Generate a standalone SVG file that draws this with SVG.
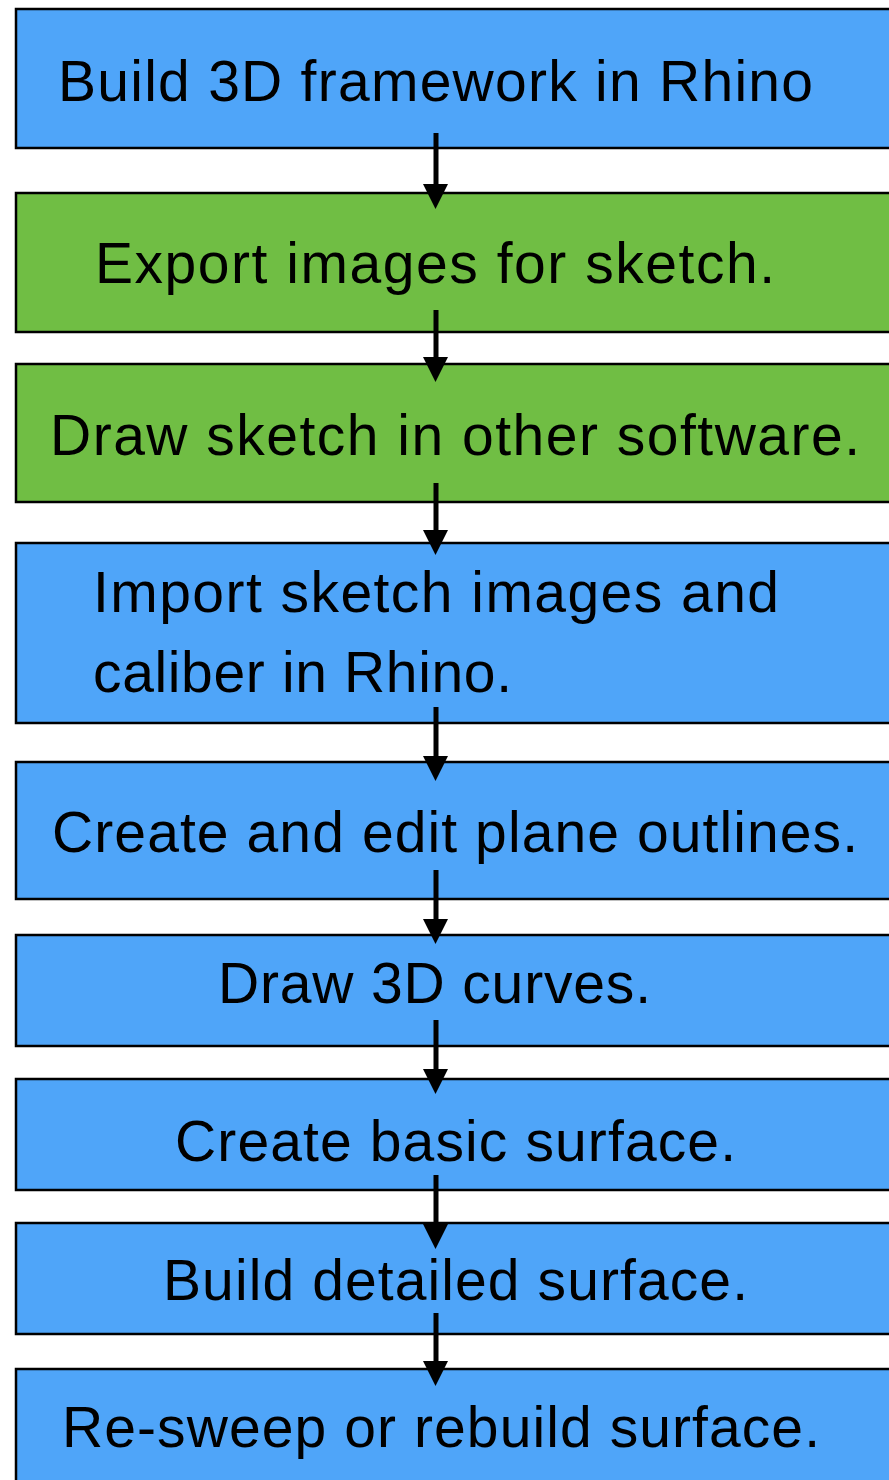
<svg xmlns="http://www.w3.org/2000/svg" width="889" height="1480" viewBox="0 0 889 1480">
<defs>
<style>
.b{fill:#4fa5f9;stroke:#000;stroke-width:2.5}
.g{fill:#70be44;stroke:#000;stroke-width:2.5}
.t{font-family:"Liberation Sans",Arial,sans-serif;font-size:57px;fill:#000}
.c line{stroke:#000;stroke-width:5}
.c polygon{fill:#000}
</style>
</defs>
<rect width="889" height="1480" fill="#fff"/>
<g id="n1"><rect class="b" x="16" y="9" width="890" height="139"/><text class="t" x="58" y="101" textLength="755" lengthAdjust="spacing">Build 3D framework in Rhino</text></g>
<g id="n2"><rect class="g" x="16" y="193" width="890" height="139"/><text class="t" x="95" y="283" textLength="680" lengthAdjust="spacing">Export images for sketch.</text></g>
<g id="n3"><rect class="g" x="16" y="364" width="890" height="138"/><text class="t" x="50" y="455" textLength="810" lengthAdjust="spacing">Draw sketch in other software.</text></g>
<g id="n4"><rect class="b" x="16" y="543" width="890" height="180"/><text class="t" x="93" y="612" textLength="686" lengthAdjust="spacing">Import sketch images and</text><text class="t" x="93" y="692" textLength="419" lengthAdjust="spacing">caliber in Rhino.</text></g>
<g id="n5"><rect class="b" x="16" y="762" width="890" height="137"/><text class="t" x="52" y="852" textLength="806" lengthAdjust="spacing">Create and edit plane outlines.</text></g>
<g id="n6"><rect class="b" x="16" y="935" width="890" height="111"/><text class="t" x="218" y="1003" textLength="433" lengthAdjust="spacing">Draw 3D curves.</text></g>
<g id="n7"><rect class="b" x="16" y="1079" width="890" height="111"/><text class="t" x="175" y="1161" textLength="561" lengthAdjust="spacing">Create basic surface.</text></g>
<g id="n8"><rect class="b" x="16" y="1223" width="890" height="111"/><text class="t" x="163" y="1300" textLength="585" lengthAdjust="spacing">Build detailed surface.</text></g>
<g id="n9"><rect class="b" x="16" y="1369" width="890" height="150"/><text class="t" x="62" y="1447" textLength="758" lengthAdjust="spacing">Re-sweep or rebuild surface.</text></g>
<g id="connectors" class="c">
<line x1="436" y1="133" x2="436" y2="186"/><polygon points="423,184 448,184 435.5,209"/>
<line x1="436" y1="310" x2="436" y2="359"/><polygon points="423,357 448,357 435.5,382"/>
<line x1="436" y1="483" x2="436" y2="532"/><polygon points="423,530 448,530 435.5,555"/>
<line x1="436" y1="707" x2="436" y2="758"/><polygon points="423,756 448,756 435.5,781"/>
<line x1="436" y1="870" x2="436" y2="921"/><polygon points="423,919 448,919 435.5,944"/>
<line x1="436" y1="1020" x2="436" y2="1071"/><polygon points="423,1069 448,1069 435.5,1094"/>
<line x1="436" y1="1175" x2="436" y2="1226"/><polygon points="423,1224 448,1224 435.5,1249"/>
<line x1="436" y1="1313" x2="436" y2="1363"/><polygon points="423,1361 448,1361 435.5,1386"/>
</g>
</svg>
